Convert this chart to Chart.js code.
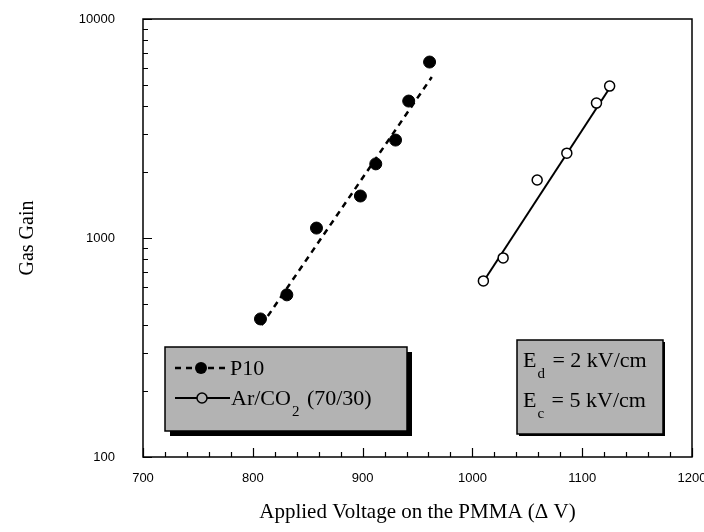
<!DOCTYPE html>
<html>
<head>
<meta charset="utf-8">
<script src="https://cdn.jsdelivr.net/npm/chart.js"></script>
<style>
  html, body { margin: 0; padding: 0; background: #fff; }
  #wrap { width: 704px; height: 532px; }
</style>
</head>
<body>
<div id="wrap"><canvas id="c" width="704" height="532"></canvas></div>
<script>
// values
const p10Volt = [807, 831, 858, 898, 912, 930, 942, 961]
const p10Gain = [427, 550, 1110, 1555, 2180, 2800, 4220, 6360]
const p10FitVolt = [808, 963]
const p10FitGain = [400, 5430]

const arVolt = [1010, 1028, 1059, 1086, 1113, 1125]
const arGain = [637, 811, 1840, 2440, 4130, 4940]
const arFitVolt = [1008, 1128]
const arFitGain = [610, 5100]

const yTicks = [100, 1000, 10000]
const xMin = 700, xMax = 1200, xStep = 100, xMinor = 20

const serif = '"Liberation Serif", "Times New Roman", serif'
const sans = '"Liberation Sans", Arial, sans-serif'

const pts = (xs, ys) => xs.map((x, i) => ({ x, y: ys[i] }))

// frame, inward ticks, legend box and field box
const decor = {
  id: 'decor',
  afterDraw(chart) {
    const { ctx, chartArea: a, scales: { x, y } } = chart
    ctx.save()
    ctx.strokeStyle = '#000'
    ctx.lineWidth = 1.5
    ctx.strokeRect(a.left, a.top, a.right - a.left, a.bottom - a.top)

    ctx.lineWidth = 1.2
    ctx.beginPath()
    for (let v = xMin; v <= xMax; v += xMinor) {
      const px = Math.round(x.getPixelForValue(v)) + 0.5
      const len = v % xStep === 0 ? 9 : 5
      ctx.moveTo(px, a.bottom); ctx.lineTo(px, a.bottom - len)
    }
    for (let d = 100; d < 10000; d *= 10) {
      for (let k = 1; k <= 10; k++) {
        const py = Math.round(y.getPixelForValue(d * k)) + 0.5
        const len = k === 1 || k === 10 ? 9 : 5
        ctx.moveTo(a.left, py); ctx.lineTo(a.left + len, py)
      }
    }
    ctx.stroke()

    // legend box
    const box = (l, t, w, h, sh) => {
      ctx.fillStyle = '#000'
      ctx.fillRect(l + sh, t + sh, w, h)
      ctx.fillStyle = '#b3b3b3'
      ctx.fillRect(l, t, w, h)
      ctx.lineWidth = 1.5
      ctx.strokeRect(l, t, w, h)
    }
    box(165, 347, 242, 84, 5)
    box(517, 340, 146, 94, 2)

    const ds = chart.data.datasets
    ctx.textBaseline = 'middle'
    ctx.textAlign = 'left'
    ctx.fillStyle = '#000'
    // row 1 : P10
    ctx.lineWidth = 2.5
    ctx.setLineDash(ds[1].borderDash)
    ctx.beginPath(); ctx.moveTo(175, 368); ctx.lineTo(229, 368); ctx.stroke()
    ctx.setLineDash([])
    ctx.beginPath(); ctx.arc(201, 368, ds[0].pointRadius, 0, Math.PI * 2); ctx.fill()
    ctx.font = '22px ' + serif
    ctx.fillText('P10', 230, 369)
    // row 2 : Ar/CO2
    ctx.lineWidth = 2
    ctx.beginPath(); ctx.moveTo(175, 398); ctx.lineTo(230, 398); ctx.stroke()
    ctx.fillStyle = '#b3b3b3'
    ctx.beginPath(); ctx.arc(202, 398, ds[2].pointRadius, 0, Math.PI * 2); ctx.fill()
    ctx.lineWidth = ds[2].borderWidth
    ctx.stroke()
    ctx.fillStyle = '#000'
    const sub = (x0, yb, main, s, rest) => {
      ctx.font = '22px ' + serif
      ctx.fillText(main, x0, yb)
      let xx = x0 + ctx.measureText(main).width + 1
      ctx.font = '15px ' + serif
      ctx.fillText(s, xx, yb + 13)
      xx += ctx.measureText(s).width + 2
      ctx.font = '22px ' + serif
      ctx.fillText(rest, xx, yb)
    }
    sub(231, 399, 'Ar/CO', '2', ' (70/30)')
    // field box
    sub(523, 361, 'E', 'd', ' = 2 kV/cm')
    sub(523, 401, 'E', 'c', ' = 5 kV/cm')
    ctx.restore()
  }
}

new Chart(document.getElementById('c'), {
  type: 'scatter',
  data: {
    datasets: [
      { label: 'P10', data: pts(p10Volt, p10Gain), showLine: false,
        pointStyle: 'circle', pointRadius: 6, pointBackgroundColor: '#000', pointBorderColor: '#000', borderWidth: 1 },
      { label: 'P10 fit', data: pts(p10FitVolt, p10FitGain), showLine: true, pointRadius: 0,
        borderColor: '#000', borderWidth: 2.5, borderDash: [6, 5] },
      { label: 'Ar/CO2 (70/30)', data: pts(arVolt, arGain), showLine: false,
        pointStyle: 'circle', pointRadius: 5, pointBackgroundColor: '#fff', pointBorderColor: '#000', borderWidth: 1.5 },
      { label: 'Ar/CO2 fit', data: pts(arFitVolt, arFitGain), showLine: true, pointRadius: 0,
        borderColor: '#000', borderWidth: 2 }
    ]
  },
  options: {
    responsive: false,
    animation: false,
    layout: { padding: { top: 19, right: 12, left: 0, bottom: 0 } },
    plugins: { legend: { display: false }, tooltip: { enabled: false } },
    scales: {
      x: {
        type: 'linear', min: xMin, max: xMax,
        grid: { display: false, drawTicks: false },
        border: { display: false },
        ticks: { stepSize: xStep, padding: 14, color: '#000', font: { family: sans, size: 13 }, callback: v => String(v) },
        title: { display: true, text: 'Applied Voltage on the PMMA (Δ V)', color: '#000',
          font: { family: serif, size: 21 }, padding: { top: 0, bottom: 7 } },
        afterFit(s) { s.height = 75; s.paddingLeft = 0; s.paddingRight = 0 }
      },
      y: {
        type: 'logarithmic', min: 100, max: 10000,
        grid: { display: false, drawTicks: false },
        border: { display: false },
        afterBuildTicks(s) { s.ticks = yTicks.map(v => ({ value: v })) },
        ticks: { padding: 28, color: '#000', font: { family: sans, size: 13 }, callback: v => String(v) },
        title: { display: true, text: 'Gas Gain', color: '#000',
          font: { family: serif, size: 20 }, padding: { top: 16, bottom: 0 } },
        afterFit(s) { s.width = 143; s.paddingTop = 0; s.paddingBottom = 0 }
      }
    }
  },
  plugins: [decor]
})
</script>
</body>
</html>
